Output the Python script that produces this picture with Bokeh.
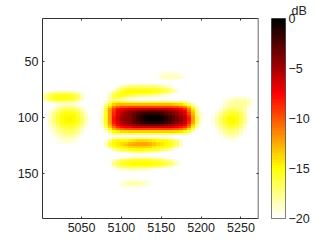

import numpy as np
from bokeh.plotting import figure
from bokeh.layouts import row
from bokeh.models import LinearColorMapper, FixedTicker, LinearAxis, Title
from bokeh.embed import file_html
from bokeh.resources import INLINE

x_ticks = [5050, 5100, 5150, 5200, 5250]
y_ticks = [50, 100, 150]
cb_ticks = [0, -5, -10, -15, -20]
# every entry: (y, first x, dB values at x steps of 5)
top_blob = [
 (60,5150,[-19.6,-19.3,-19.2,-19.3,-19.7]),
 (62,5145,[-19.7,-19.2,-18.9,-18.8,-18.8,-18.9,-19.3,-19.8]),
 (64,5145,[-19.5,-19,-18.7,-18.5,-18.5,-18.6,-19,-19.6]),
 (66,5150,[-19.5,-19.2,-19.1,-19.2,-19.6]),
]
upper_band = [
 (70,5105,[-19.8,-19.5,-19.5,-19.5,-19.5,-19.5,-19.5,-19.7]),
 (72,5095,[-19.5,-18.5,-18,-17.5,-17.5,-17.5,-17.5,-17.5,-17.5,-17.5,-17.8,-18,-18.5,-19,-19.5]),
 (74,5090,[-19.5,-18,-17,-16,-15.8,-15.7,-15.7,-15.7,-15.7,-15.7,-15.8,-16,-16.3,-16.8,-17.5,-18.5,-19.5]),
 (76,5085,[-19.7,-18.5,-17,-15.8,-15.2,-15,-15,-15,-15,-15,-15.1,-15.3,-15.5,-16,-16.5,-17.2,-18,-19,-19.8]),
 (78,5085,[-19,-17.5,-16,-15.2,-15,-15,-15.1,-15.2,-15.2,-15.2,-15.4,-15.7,-16,-16.5,-17,-17.8,-18.5,-19.5]),
 (80,5085,[-18.5,-16.8,-15.5,-15.5,-15.8,-16.2,-16.5,-16.8,-17,-17,-17.3,-17.6,-18,-18.5,-19,-19.5,-19.8]),
 (82,5080,[-19.5,-18,-16.5,-16,-16.8,-17.8,-18.5,-19,-19.3,-19.5,-19.5,-19.6,-19.7,-19.8,-19.9]),
]
main_lobe = [
 (84,5075,[-20,-19.5,-18.5,-17.5,-18,-18.5,-19,-19.3,-19.5,-19.5,-19.6,-19.6,-19.6,-19.6,-19.6,-19.6,-19.6,-19.6,-19.7,-19.8,-19.9,-20,-20,-20,-20,-20,-20]),
 (86,5075,[-20,-19,-17.5,-15.8,-15.5,-16,-16.5,-16.8,-17,-17,-17,-17,-17,-17,-17,-17,-17,-17,-17.2,-17.5,-17.8,-18.3,-19,-19.7,-20,-20,-20]),
 (88,5075,[-19.8,-18,-15.5,-13.5,-13,-13,-13,-13,-13,-13,-13,-13,-13,-13,-13,-13,-13,-13,-13.2,-13.5,-14,-14.8,-16.5,-18.3,-19.8,-20,-20]),
 (90,5075,[-19.5,-17,-14,-11.5,-10.5,-10,-9.8,-9.6,-9.5,-9.5,-9.5,-9.5,-9.5,-9.5,-9.5,-9.5,-9.5,-9.6,-9.8,-10,-10.8,-11.5,-13.5,-16,-18.5,-20,-20]),
 (92,5075,[-19.3,-16,-12.5,-9.5,-8,-7.5,-7,-6.8,-6.5,-6.3,-6,-6,-6,-6,-6,-6,-6.2,-6.5,-6.8,-7.2,-7.8,-9,-11.5,-14.5,-18,-19.8,-20]),
 (94,5075,[-19.2,-15.8,-12,-8.8,-7,-6.2,-5.5,-5,-4.5,-4,-3.7,-3.5,-3.4,-3.4,-3.5,-3.7,-4,-4.5,-5,-5.5,-6.2,-7.5,-10.5,-13.5,-17.5,-19.5,-20]),
 (96,5075,[-19.1,-15.6,-12,-8.5,-6.7,-5.6,-4.8,-4,-3.2,-2.6,-2.1,-1.8,-1.6,-1.6,-1.8,-2.1,-2.6,-3.2,-3.9,-4.5,-5.4,-6.7,-9.5,-13,-17,-19.3,-20]),
 (98,5075,[-19,-15.5,-12,-8.2,-6.5,-5.2,-4.4,-3.8,-2.9,-1.9,-1.2,-0.7,-0.4,-0.4,-0.6,-1.1,-1.7,-2.4,-3.1,-3.9,-4.8,-5.9,-8.5,-12.3,-16.5,-19.2,-20]),
 (100,5075,[-19,-15.5,-12,-8,-6.5,-5,-4.3,-3.8,-3,-2,-1.2,-0.5,-0.1,0,-0.1,-0.5,-1.2,-2,-2.7,-3.5,-4.5,-5.5,-8,-12,-16,-19,-20]),
 (102,5075,[-19,-15.5,-12,-8,-6.3,-5,-4.3,-3.8,-3,-2.1,-1.3,-0.6,-0.2,-0.1,-0.2,-0.6,-1.3,-2.1,-2.8,-3.6,-4.6,-5.6,-8,-12,-16,-19,-20]),
 (104,5075,[-19,-15.6,-12.1,-8.3,-6.6,-5.4,-4.6,-4.1,-3.4,-2.6,-1.9,-1.3,-1,-1,-1.2,-1.5,-2.1,-2.8,-3.5,-4.2,-5,-6,-8.7,-12.5,-16.5,-19.2,-20]),
 (106,5075,[-19.3,-16,-12.7,-9.2,-7.5,-6.3,-5.5,-5,-4.5,-4,-3.6,-3.3,-3.2,-3.2,-3.3,-3.5,-3.9,-4.4,-5,-5.5,-6.2,-7.4,-10,-13.5,-17.3,-19.5,-20]),
 (108,5075,[-19.6,-16.8,-13.7,-10.7,-9,-7.9,-7.2,-6.9,-6.5,-6.2,-6,-6,-6,-6,-6,-6,-6.2,-6.5,-6.8,-7.2,-7.9,-9,-11.5,-14.5,-18,-19.8,-20]),
 (110,5075,[-20,-18,-15.3,-12.8,-11.5,-10.5,-10,-9.8,-9.6,-9.5,-9.5,-9.5,-9.5,-9.5,-9.5,-9.5,-9.5,-9.6,-9.8,-10.2,-10.8,-11.8,-13.8,-16.2,-18.8,-20,-20]),
 (112,5075,[-20,-19.3,-17.3,-15.3,-14.5,-14,-13.8,-13.6,-13.5,-13.5,-13.5,-13.5,-13.5,-13.5,-13.5,-13.5,-13.5,-13.5,-13.7,-13.9,-14.3,-15,-16.5,-18.5,-19.8,-20,-20]),
 (114,5075,[-20,-20,-18.8,-17.5,-17.3,-17.2,-17.1,-17,-17,-17,-17,-17,-17,-17,-17,-17,-17,-17,-17.2,-17.4,-17.7,-18.2,-19,-19.8,-20,-20,-20]),
 (116,5075,[-20,-20,-20,-19.6,-19.5,-19.5,-19.5,-19.5,-19.5,-19.5,-19.5,-19.5,-19.5,-19.5,-19.5,-19.5,-19.5,-19.5,-19.6,-19.7,-19.9,-20,-20,-20,-20,-20,-20]),
]
lower_band = [
 (118,5085,[-19.5,-18.5,-18,-18,-18,-18,-17.8,-17.5,-17.5,-17.5,-17.8,-18,-18,-18.5,-19,-19.3,-19.5,-19.8]),
 (120,5080,[-19.5,-17.5,-15.5,-15,-15,-14.8,-14.5,-14.2,-14,-14,-14,-14.2,-14.5,-14.8,-15,-15.3,-15.8,-16.5,-17.5,-19]),
 (122,5080,[-18.5,-16,-15,-14.5,-14,-13.5,-13,-12.8,-12.5,-12.5,-12.5,-12.8,-13.2,-13.8,-14.2,-14.8,-15.2,-16,-17,-18.5]),
 (124,5080,[-18.5,-16,-15,-14.5,-13.8,-13.2,-12.8,-12.5,-12.3,-12.3,-12.5,-12.8,-13.2,-13.8,-14.3,-14.8,-15.3,-16,-17,-18.5]),
 (126,5080,[-19.5,-17.5,-16,-15,-14.8,-14.5,-14,-13.8,-13.5,-13.5,-13.8,-14,-14.5,-15,-15.2,-15.5,-16,-17,-18,-19.5]),
 (128,5085,[-19.5,-18,-17,-16.5,-16,-15.5,-15.2,-15,-15,-15.2,-15.5,-15.8,-16.2,-16.8,-17.3,-18,-19,-19.8]),
 (130,5090,[-19.7,-19.2,-18.7,-18.2,-18,-17.7,-17.5,-17.5,-17.7,-18,-18.3,-18.7,-19.2,-19.5,-19.8]),
 (132,5105,[-19.8,-19.7,-19.5,-19.5,-19.5,-19.6,-19.7,-19.8]),
 (134,5105,[-19.8,-19.7,-19.5,-19.5,-19.5,-19.5,-19.6,-19.8]),
 (136,5095,[-19.7,-19,-18.5,-18,-17.8,-17.7,-17.7,-17.7,-17.8,-18,-18.2,-18.7,-19.2,-19.7]),
 (138,5090,[-18.5,-17.3,-16.5,-16,-15.7,-15.5,-15.5,-15.5,-15.5,-15.6,-15.8,-16,-16.5,-17,-17.8,-18.5,-19.3]),
 (140,5085,[-19.5,-17.5,-16.5,-15.8,-15.3,-15.1,-15,-15,-15,-15,-15.1,-15.2,-15.4,-15.8,-16.2,-16.8,-17.5,-18.3,-19.5]),
 (142,5085,[-19.7,-18,-17,-16.3,-15.8,-15.4,-15.2,-15.1,-15.1,-15.2,-15.3,-15.5,-15.8,-16.2,-16.7,-17.3,-18,-19,-19.8]),
 (144,5090,[-19.3,-18,-17.3,-17,-16.8,-16.7,-16.7,-16.7,-16.8,-17,-17.2,-17.5,-18,-18.5,-19,-19.7]),
 (146,5095,[-19.5,-19,-18.8,-18.7,-18.7,-18.7,-18.8,-19,-19.3,-19.5,-19.8]),
 (154,5105,[-19.8,-19.6,-19.5,-19.6,-19.8]),
 (156,5100,[-19.5,-19,-18.8,-18.7,-18.7,-18.8,-19,-19.5]),
 (158,5095,[-19.8,-19,-18.5,-18.3,-18.3,-18.3,-18.5,-19,-19.6]),
 (160,5100,[-19.3,-18.8,-18.6,-18.5,-18.6,-18.8,-19.3,-19.8]),
 (162,5105,[-19.6,-19.5,-19.5,-19.6]),
]
left_blob = [
 (76,5005,[-19.8,-19.6,-19.4,-19.3,-19.2,-19.2,-19.3,-19.5,-19.7]),
 (78,5000,[-19.6,-19,-18.3,-17.6,-17.3,-17.2,-17.2,-17.3,-17.6,-18.5,-19.5]),
 (80,5000,[-19.2,-18,-16.8,-16,-15.8,-15.6,-15.5,-15.7,-16,-17,-18.5,-19.8]),
 (82,5000,[-19,-17.5,-16.3,-15.5,-15.3,-15.2,-15.2,-15.4,-15.8,-16.8,-18.2,-19.7]),
 (84,5000,[-19.4,-18,-16.8,-16,-15.6,-15.5,-15.5,-15.8,-16.2,-17.2,-18.7]),
 (86,5005,[-19.4,-18.7,-18,-17.8,-17.6,-17.7,-18,-18.3,-19,-19.7]),
 (88,5015,[-19.8,-19.3,-18.8,-18.5,-18.5,-18.8,-19.3,-19.8]),
 (90,5015,[-19.5,-18.8,-18,-17.7,-17.7,-18,-18.5,-19.3]),
 (92,5010,[-19.8,-19,-18,-17.2,-16.7,-16.7,-17,-17.6,-18.7,-19.6]),
 (94,5010,[-19.5,-18.3,-17.2,-16.3,-15.8,-15.7,-16,-16.7,-18,-19.3]),
 (96,5005,[-19.8,-19.1,-17.8,-16.6,-15.8,-15.3,-15.2,-15.4,-16.1,-17.3,-18.8,-19.8]),
 (98,5005,[-19.7,-18.8,-17.4,-16.2,-15.3,-14.9,-14.8,-15,-15.7,-16.9,-18.5,-19.6]),
 (100,5005,[-19.6,-18.6,-17.2,-16,-15.1,-14.7,-14.6,-14.8,-15.5,-16.7,-18.3,-19.5]),
 (102,5005,[-19.6,-18.6,-17.2,-16,-15.1,-14.7,-14.6,-14.8,-15.5,-16.7,-18.3,-19.5]),
 (104,5005,[-19.7,-18.8,-17.5,-16.3,-15.4,-15,-14.9,-15.1,-15.8,-17,-18.6,-19.7]),
 (106,5005,[-19.8,-19,-17.9,-16.8,-15.9,-15.5,-15.4,-15.6,-16.3,-17.5,-19]),
 (108,5010,[-19.3,-18.3,-17.2,-16.4,-16,-15.9,-16.1,-16.8,-18,-19.3]),
 (110,5010,[-19.5,-18.7,-17.7,-16.9,-16.5,-16.4,-16.6,-17.3,-18.5,-19.6]),
 (112,5010,[-19.6,-18.9,-18,-17.4,-17,-16.9,-17.1,-17.8,-18.9,-19.7]),
 (114,5010,[-19.7,-19.2,-18.5,-17.9,-17.5,-17.4,-17.6,-18.3,-19.3]),
 (116,5010,[-19.9,-19.4,-18.8,-18.3,-18,-17.9,-18.1,-18.8,-19.6]),
 (118,5015,[-19.6,-19.2,-18.7,-18.5,-18.4,-18.6,-19.2,-19.8]),
 (120,5015,[-19.8,-19.4,-19.1,-18.9,-18.9,-19.1,-19.5]),
 (122,5020,[-19.6,-19.4,-19.3,-19.3,-19.6]),
 (124,5020,[-19.8,-19.6,-19.6,-19.8]),
]
right_blob = [
 (80,5240,[-19.7,-19.6,-19.7]),
 (82,5235,[-19.6,-19.2,-19,-19,-19.2,-19.5]),
 (84,5230,[-19.6,-19,-18.5,-18.3,-18.2,-18.4,-18.8,-19.5]),
 (86,5230,[-19.3,-18.7,-18.2,-18,-18,-18.1,-18.6,-19.4]),
 (88,5225,[-19.7,-19,-18.4,-18,-17.9,-17.9,-18.1,-18.8,-19.6]),
 (90,5225,[-19.5,-18.7,-18,-17.7,-17.6,-17.8,-18.3,-19.3]),
 (92,5220,[-19.8,-19.1,-18.2,-17.4,-17,-17.1,-17.6,-18.3,-19.4]),
 (94,5220,[-19.5,-18.6,-17.5,-16.7,-16.4,-16.6,-17.2,-18.2,-19.4]),
 (96,5215,[-19.8,-19,-17.9,-16.8,-16,-15.7,-16,-16.8,-18.1,-19.5]),
 (98,5215,[-19.6,-18.6,-17.4,-16.2,-15.4,-15.2,-15.6,-16.5,-18,-19.5]),
 (100,5215,[-19.4,-18.3,-17,-15.8,-15,-14.9,-15.3,-16.3,-17.9,-19.4]),
 (102,5215,[-19.3,-18.2,-16.9,-15.7,-14.9,-14.8,-15.2,-16.3,-17.9,-19.4]),
 (104,5215,[-19.4,-18.3,-17,-15.9,-15.1,-15,-15.4,-16.5,-18.1,-19.5]),
 (106,5215,[-19.6,-18.6,-17.4,-16.3,-15.6,-15.5,-15.9,-17,-18.5,-19.7]),
 (108,5215,[-19.8,-19,-17.9,-16.9,-16.2,-16,-16.5,-17.5,-19]),
 (110,5220,[-19.3,-18.4,-17.4,-16.8,-16.6,-17,-18,-19.3]),
 (112,5220,[-19.6,-18.8,-17.9,-17.4,-17.2,-17.6,-18.5,-19.6]),
 (114,5220,[-19.8,-19.2,-18.4,-17.9,-17.8,-18.2,-19]),
 (116,5225,[-19.5,-18.9,-18.5,-18.4,-18.8,-19.4]),
 (118,5225,[-19.8,-19.3,-19,-18.9,-19.2,-19.7]),
 (120,5230,[-19.7,-19.4,-19.4,-19.6]),
 (122,5235,[-19.8,-19.7,-19.8]),
]
Z=np.full((53,55),-20.0)
for block in (top_blob,upper_band,main_lobe,lower_band,left_blob,right_blob):
    for y,x0,vals in block:
        i=(y-60)//2; j=(x0-5000)//5
        Z[i,j:j+len(vals)]=vals

def hot_r(n=64):
    out=[]
    for i in range(n):
        t=i/(n-1)
        r=min(1,t/(3/8)); g=min(1,max(0,(t-3/8)/(3/8))); b=min(1,max(0,(t-6/8)/(2/8)))
        out.append("#%02x%02x%02x"%(int(r*255),int(g*255),int(b*255)))
    return out[::-1]

mapper=LinearColorMapper(palette=hot_r(),low=-20,high=0)
FONT="Liberation Sans"
p=figure(width=259,height=240,x_range=(5001,5272),y_range=(190,11.7),output_backend="svg",toolbar_location=None,
         min_border_left=42,min_border_right=1,min_border_top=18,min_border_bottom=22,tools="",x_axis_location=None,y_axis_location=None)
p.grid.visible=False
p.outline_line_color=None
p.image(image=[Z],x=4997.5,y=59,dw=275,dh=106,color_mapper=mapper)
def mk(ticks,labels,color="#333333",lw=1):
    a=LinearAxis(ticker=FixedTicker(ticks=ticks))
    a.major_tick_in=2;a.major_tick_out=0;a.minor_tick_in=0;a.minor_tick_out=0
    a.axis_line_color=color;a.axis_line_width=lw;a.major_tick_line_color="#333333"
    a.major_label_text_font=FONT;a.major_label_text_font_size="12.5px";a.major_label_text_color="#222222"
    a.major_label_standoff=4
    if labels is False:
        a.major_label_overrides={t:"" for t in ticks}
    return a
p.add_layout(mk(x_ticks,True),"below")
p.add_layout(mk(y_ticks,True),"left")
p.add_layout(mk(x_ticks,False),"above")
p.add_layout(mk(y_ticks,False,"#999999",2),"right")

levels=np.arange(64,dtype=float)*(20/63)-20
q=figure(width=60,height=240,x_range=(0,1),y_range=(-20,0),output_backend="svg",toolbar_location=None,
         min_border_left=12,min_border_right=34,min_border_top=18,min_border_bottom=22,tools="",x_axis_location=None,y_axis_location=None)
q.grid.visible=False
q.outline_line_color="#555555"
q.image(image=[levels.reshape(-1,1)],x=0,y=-20,dw=1,dh=20,color_mapper=mapper)
ax=LinearAxis(ticker=FixedTicker(ticks=cb_ticks),major_label_overrides={0:"0",-5:"\u22125",-10:"\u221210",-15:"\u221215",-20:"\u221220"})
ax.major_tick_in=0;ax.major_tick_out=0;ax.minor_tick_in=0;ax.minor_tick_out=0
ax.axis_line_color=None
ax.major_label_text_font=FONT;ax.major_label_text_font_size="12.5px";ax.major_label_text_color="#222222";ax.major_label_standoff=3
q.add_layout(ax,"right")
q.add_layout(Title(text="dB",align="left",offset=20,standoff=2,text_font=FONT,text_font_size="12.5px",text_font_style="normal",text_color="#222222"),"above")
open("out.html","w").write(file_html(row(p,q,spacing=0),INLINE))
